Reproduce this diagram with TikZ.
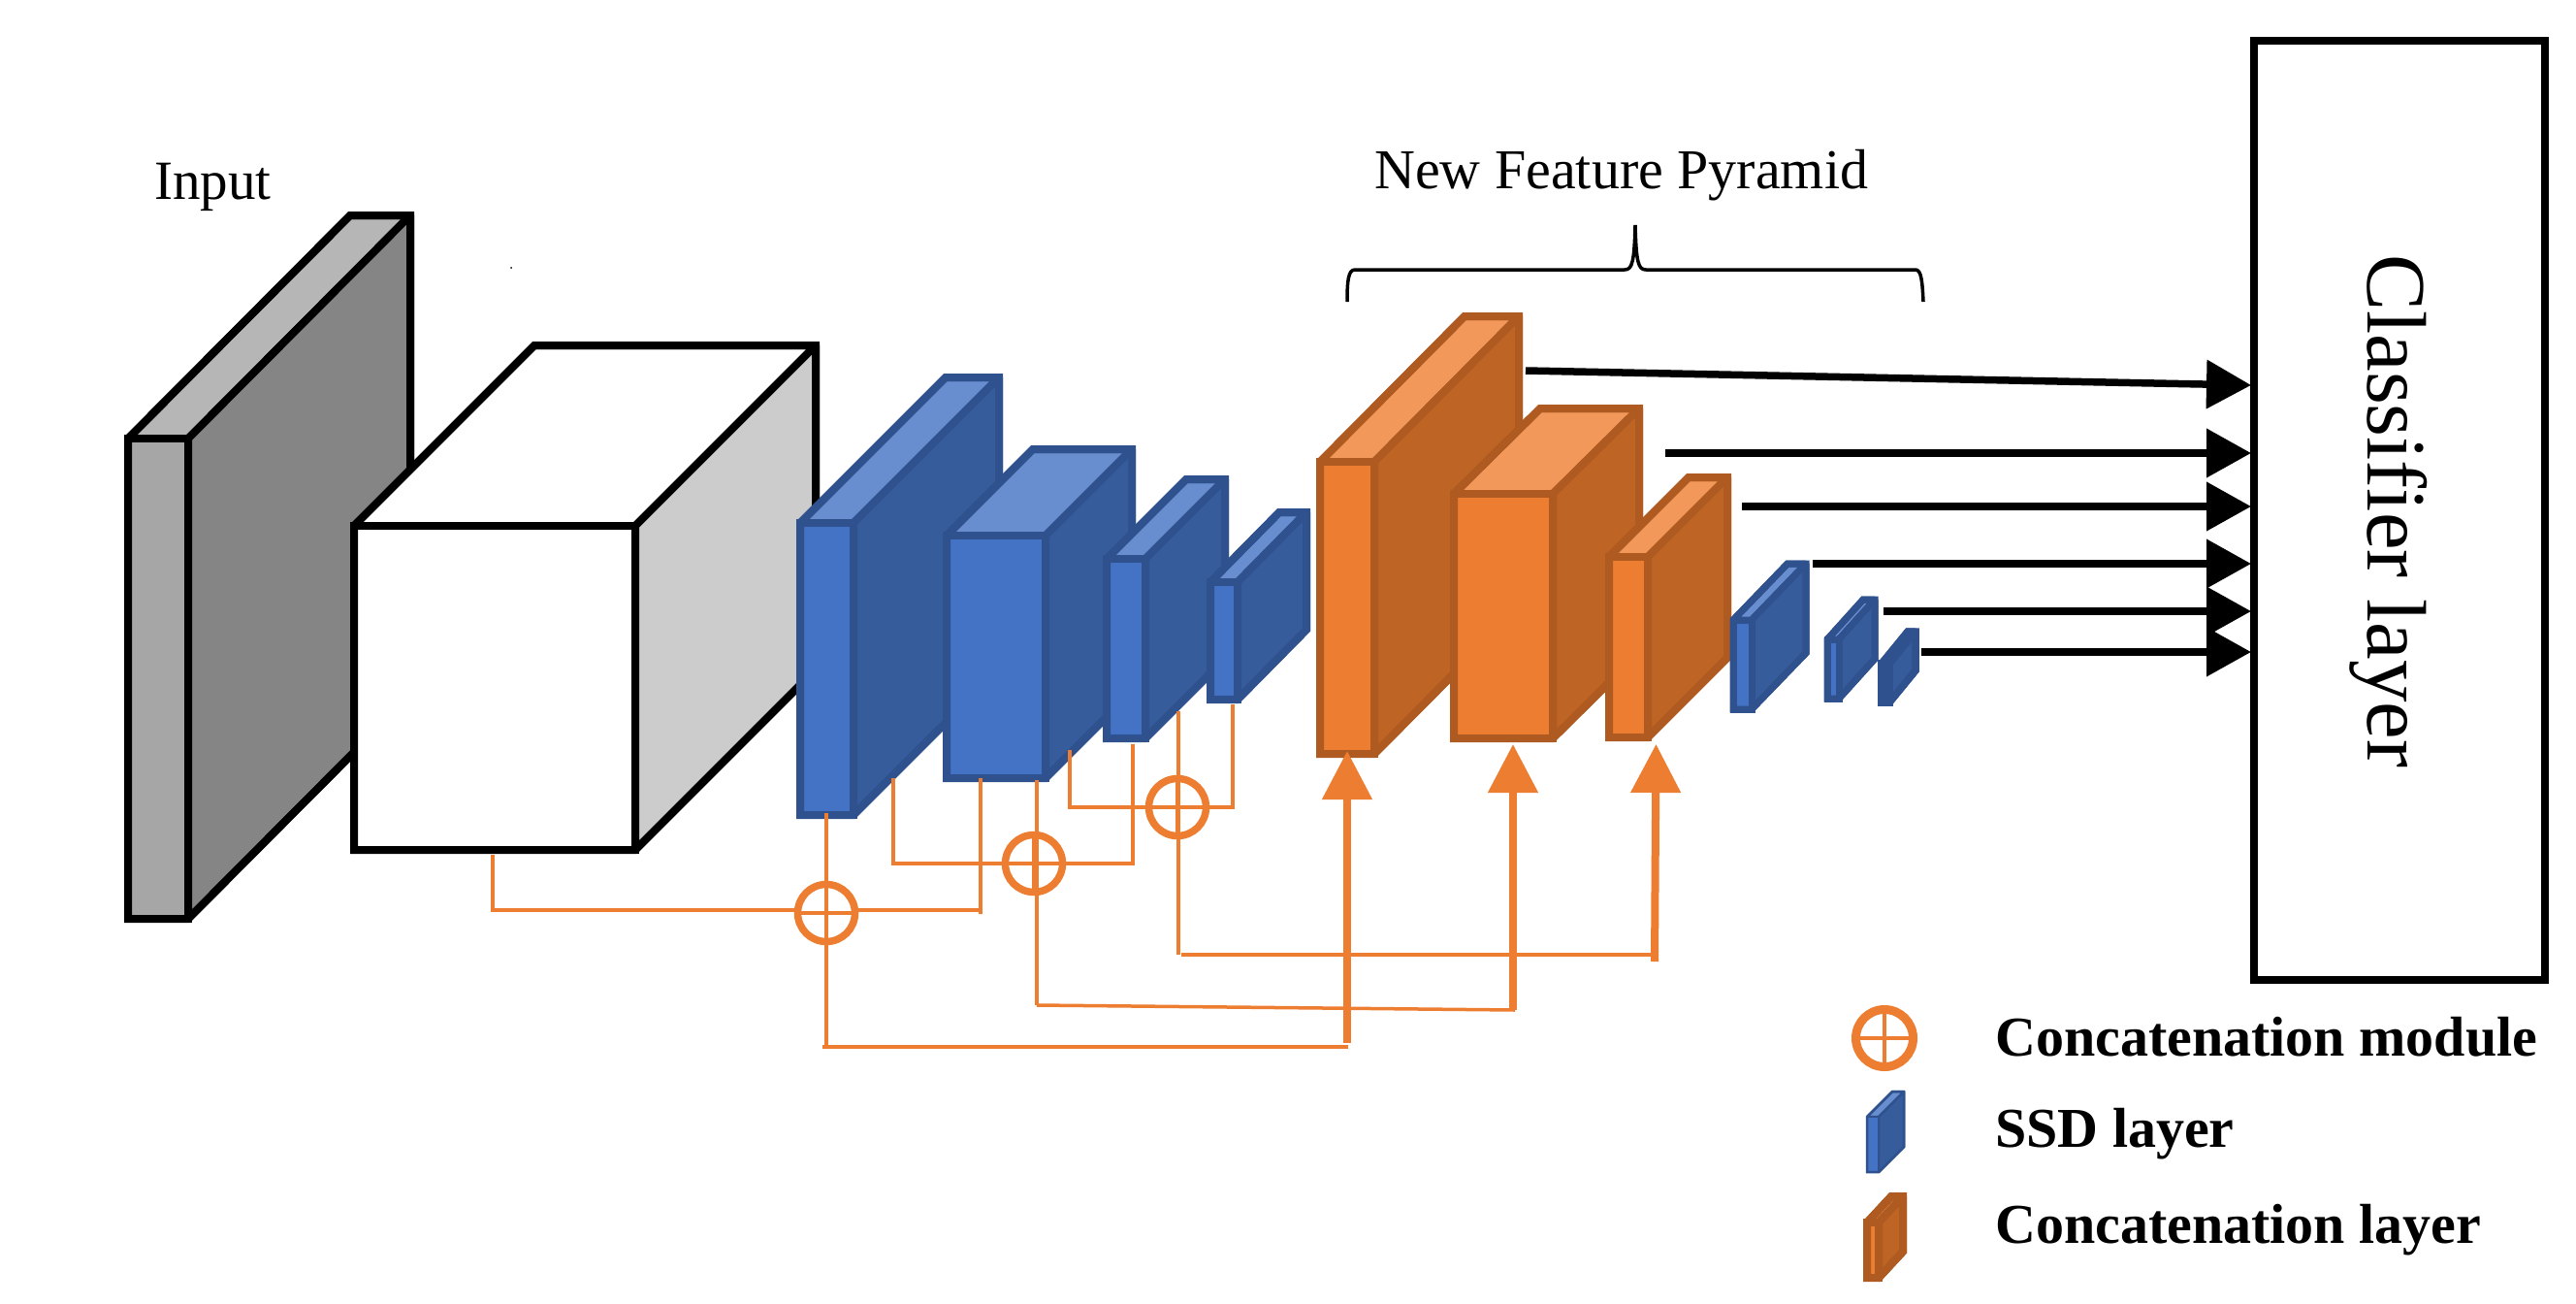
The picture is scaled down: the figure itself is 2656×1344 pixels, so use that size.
\documentclass[tikz,border=0pt]{standalone}
\usepackage{fontspec}
\setmainfont{Liberation Serif}
\usetikzlibrary{arrows.meta}
\definecolor{inputfront}{HTML}{A6A6A6}\definecolor{inputside}{HTML}{858585}\definecolor{inputtop}{HTML}{B6B6B6}\definecolor{inputline}{HTML}{000000}
\definecolor{cubefront}{HTML}{FFFFFF}\definecolor{cubeside}{HTML}{CCCCCC}\definecolor{cubetop}{HTML}{FFFFFF}\definecolor{cubeline}{HTML}{000000}
\definecolor{bluefront}{HTML}{4472C4}\definecolor{blueside}{HTML}{365C9C}\definecolor{bluetop}{HTML}{698ED0}\definecolor{blueline}{HTML}{2F528F}
\definecolor{orgfront}{HTML}{ED7D31}\definecolor{orgside}{HTML}{BE6424}\definecolor{orgtop}{HTML}{F1985A}\definecolor{orgline}{HTML}{AE5A21}
\definecolor{wireorange}{HTML}{ED7D31}
\newcommand{\layerbox}[9]{%
  \pgfmathsetmacro{\bxr}{#3+#6}\pgfmathsetmacro{\bxl}{#2+#6}%
  \pgfmathsetmacro{\byt}{#4-#7}\pgfmathsetmacro{\byb}{#5-#7}%
  \begin{scope}[line width=#9, line join=miter, miter limit=1.5, draw=#8line]
    \filldraw[fill=#8top] (#2,#4) -- (\bxl,\byt) -- (\bxr,\byt) -- (#3,#4) -- cycle;
    \filldraw[fill=#8side] (#3,#4) -- (\bxr,\byt) -- (\bxr,\byb) -- (#3,#5) -- cycle;
    \filldraw[fill=#8front] (#2,#4) rectangle (#3,#5);
    \draw (#2,#4) -- (\bxl,\byt) -- (\bxr,\byt) -- (\bxr,\byb) -- (#3,#5) -- (#2,#5) -- cycle;
  \end{scope}}
\tikzset{
  wire/.style={wireorange, line width=3.5pt},
  uparrow/.style={wireorange, line width=8pt, -{Triangle[length=50pt,width=50pt]}},
  outarrow/.style={black, line width=7.5pt, -{Triangle[length=46pt,width=49pt]}},
  concat/.style={circle, draw=wireorange, line width=7.5pt, minimum size=59pt, inner sep=0pt, fill=none,
    path picture={\draw[wireorange, line width=3.5pt] (path picture bounding box.north)--(path picture bounding box.south)
      (path picture bounding box.west)--(path picture bounding box.east);}},
  legendconcat/.style={concat, line width=9pt},
  plainlabel/.style={font=\fontsize{58}{66}\selectfont, anchor=base west, inner sep=0pt},
  boldlabel/.style={font=\fontsize{58}{66}\selectfont\bfseries, anchor=base west, inner sep=0pt},
}
\begin{document}
\begin{tikzpicture}[x=1pt,y=-1pt]
\useasboundingbox (0,0) rectangle (2656,1344);
\fill[white] (0,0) rectangle (2656,1344);
% stray dot of the reference
\fill[black] (527,276) circle (1pt);

\layerbox{input}{132}{194}{452}{947}{229}{230}{input}{8pt}
\layerbox{cube}{365}{655}{542}{876}{186}{186}{cube}{8pt}
\layerbox{b1}{825}{880}{539}{840}{150}{150}{blue}{8pt}
\layerbox{b2}{976}{1078}{552}{802}{89}{89}{blue}{8pt}
\layerbox{b3}{1141}{1181}{576}{761}{82}{82}{blue}{8pt}
\layerbox{b4}{1248}{1276}{600}{721}{71}{72}{blue}{8pt}
\layerbox{o1}{1361}{1417}{476}{777}{149}{150}{org}{8pt}
\layerbox{o2}{1499}{1601}{509}{761}{89}{88}{org}{8pt}
\layerbox{o3}{1659}{1699}{574}{760}{82}{82}{org}{8pt}
\layerbox{s1}{1787}{1806}{639}{731}{56}{58}{blue}{7pt}
\layerbox{s2}{1884}{1896}{659}{720}{37}{41}{blue}{7pt}
\layerbox{s3}{1940}{1948}{684}{724}{27}{33}{blue}{7.5pt}

% Classifier
\node[draw=black, line width=8pt, fill=white, outer sep=0pt, minimum width=300pt, minimum height=968pt, inner sep=0pt, anchor=north west] (classifier) at (2324,42) {};
\node[rotate=-90, font=\fontsize{87}{100}\selectfont, inner sep=0pt, anchor=base west] (classlabel) at (2441.5,262) {Classifier layer};

% Concatenation circles
\node[concat] (c1) at (852,941) {};
\node[concat] (c2) at (1066,890) {};
\node[concat] (c3) at (1214,832) {};

% Wire ends
\coordinate (cubeout) at (508,881);
\coordinate (c1l) at (823,938);
\coordinate (c1r) at (881,938);
\coordinate (b2outa) at (1011,802);
\coordinate (b2bend) at (1011,942);
\coordinate (b1out) at (852,838);
\coordinate (long1) at (852,1079);
\coordinate (long1s) at (848,1079);
\coordinate (long1e) at (1390,1079);
\coordinate (b2outb) at (1069,804);
\coordinate (long2) at (1069,1036);
\coordinate (long2e) at (1562,1041);
\coordinate (b1sideout) at (921,802);
\coordinate (b3out) at (1168,767);
\coordinate (b2sideout) at (1103,773);
\coordinate (b3sideout) at (1215,733);
\coordinate (b4out) at (1271,726);
\coordinate (long3) at (1215,984);
\coordinate (long3s) at (1218,984);
\coordinate (long3e) at (1702,984);
\coordinate (a1s) at (1389,1075);
\coordinate (a1e) at (1389,774);
\coordinate (a2s) at (1560,1041);
\coordinate (a2e) at (1560,767);
\coordinate (a3s) at (1706,991);
\coordinate (a3e) at (1707.5,767);

% Wires
\draw[wire] (cubeout) |- (c1l);
\draw[wire] (c1r) -| (b2bend) -- (b2outa);
\draw[wire] (b1out) -- (long1);
\draw[wire] (b1sideout) |- (c2.west);
\draw[wire] (c2.east) -- (1168,890) -- (b3out);
\draw[wire] (b2outb) -- (long2);
\draw[wire] (b2sideout) |- (c3.west);
\draw[wire] (c3.east) -- (1271,832) -- (b4out);
\draw[wire] (b3sideout) -- (long3);
\draw[wire] (long1s) -- (long1e);
\draw[wire] (long2) -- (long2e);
\draw[wire] (long3s) -- (long3e);
\draw[uparrow] (a1s) -- (a1e);
\draw[uparrow] (a2s) -- (a2e);
\draw[uparrow] (a3s) -- (a3e);

% Output arrows
\coordinate (p1) at (1573,382);\coordinate (q1) at (2321,397);
\coordinate (p2) at (1717,467);\coordinate (q2) at (2321,467);
\coordinate (p3) at (1796,522);\coordinate (q3) at (2321,522);
\coordinate (p4) at (1869,581);\coordinate (q4) at (2321,581);
\coordinate (p5) at (1942,630);\coordinate (q5) at (2321,630);
\coordinate (p6) at (1981,672);\coordinate (q6) at (2321,672);
\foreach \i in {1,...,6}{\draw[outarrow] (p\i) -- (q\i);}

% Brace
\draw[black, line width=3.5pt] (1389,311) .. controls (1389,290) and (1390,278) .. (1397,278) -- (1675,278) .. controls (1683,278) and (1685,270) .. (1686,232) .. controls (1687,270) and (1689,278) .. (1697,278) -- (1975,278) .. controls (1981,278) and (1982,290) .. (1983,311);

% Labels
\node[plainlabel, font=\fontsize{57}{66}\selectfont] (inputlabel) at (159,205) {Input};
\node[plainlabel] (pyramidlabel) at (1417,194) {New Feature Pyramid};

% Legend
\node[legendconcat] (legcircle) at (1943,1070) {};
\layerbox{legb}{1925}{1937}{1151}{1208}{26}{26}{blue}{2.5pt}
\layerbox{lego}{1925}{1937}{1260}{1317}{25}{27}{org}{8pt}
\node[boldlabel] (legtext1) at (2057,1088) {Concatenation module};
\node[boldlabel] (legtext2) at (2057,1182) {SSD layer};
\node[boldlabel] (legtext3) at (2057,1281) {Concatenation layer};
\end{tikzpicture}
\end{document}
